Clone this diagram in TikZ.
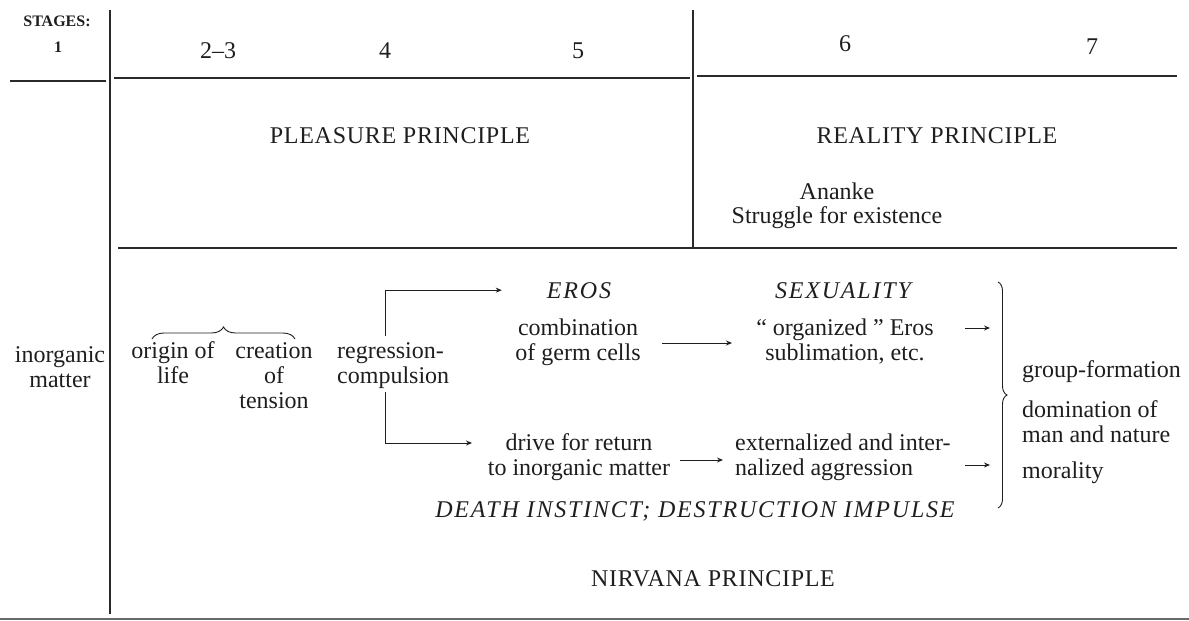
\documentclass[tikz,border=0pt]{standalone}
\usepackage{fontspec}
\setmainfont{Liberation Serif}
\usetikzlibrary{arrows.meta,decorations.pathreplacing}
\definecolor{ink}{HTML}{1E1E1E}
\definecolor{rulec}{HTML}{2A2A2A}
\begin{document}
\begin{tikzpicture}[x=1pt,y=-1pt,
  txt/.style={inner sep=0pt, text=ink, font=\fontsize{24}{25}\selectfont},
  itcaps/.style={txt, font=\fontsize{24}{25}\selectfont\itshape\addfontfeatures{LetterSpace=7.5}},
  caps/.style={txt, font=\fontsize{24}{25}\selectfont\addfontfeatures{LetterSpace=3}},
  small/.style={inner sep=0pt, text=ink, font=\fontsize{16}{18}\selectfont\bfseries},
  tabrule/.style={draw=rulec, line width=1.4pt},
  arr/.style={draw=ink, line width=0.9pt, -{Stealth[length=6pt,width=5pt]}},
  brc/.style={draw=ink, line width=0.9pt, decorate}]
\useasboundingbox (0,0) rectangle (1189,621);
% table rules
\draw[tabrule] (110,10) -- (110,614);
\draw[tabrule] (10,81) -- (106,81);
\draw[tabrule] (114,78) -- (690,78);
\draw[tabrule] (693,10) -- (693,248);
\draw[tabrule] (697,76) -- (1177,76);
\draw[tabrule] (118,248) -- (1177,248);
\draw[draw=rulec!70, line width=1.4pt] (0,619) -- (1189,619);
% stages
\node[small] (stg) at (57,21) {STAGES:};
\node[small] (s1) at (58,47) {1};
\node[txt] (s23) at (218,51) {2–3};
\node[txt] (s4) at (385,51) {4};
\node[txt] (s5) at (578,51) {5};
\node[txt] (s6) at (845,44) {6};
\node[txt] (s7) at (1092,47) {7};
% principles
\node[caps, anchor=base] (pp) at (400,143) {PLEASURE PRINCIPLE};
\node[caps, anchor=base] (rp) at (937,143) {REALITY PRINCIPLE};
\node[txt, anchor=base, align=center, font=\fontsize{24}{24}\selectfont] (ana) at (837,223) {Ananke\\Struggle for existence};
% lower part (base anchor = last line's baseline)
\node[txt, anchor=base, align=center] (inorg) at (60,387) {inorganic\\matter};
\node[txt, anchor=base, align=center] (origin) at (173,383) {origin of\\life};
\node[txt, anchor=base, align=center] (creation) at (274,408) {creation\\of\\tension};
\node[txt, anchor=base west, align=left] (reg) at (337,383) {regression-\\compulsion};
\node[itcaps, anchor=base] (eros) at (579,298) {EROS};
\node[txt, anchor=base, align=center] (comb) at (578,360) {combination\\of germ cells};
\node[itcaps, anchor=base] (sex) at (843,298) {SEXUALITY};
\node[txt, anchor=base, align=center] (org) at (845,360) {“ organized ” Eros\\sublimation, etc.};
\node[txt, anchor=base, align=center] (drive) at (579,475) {drive for return\\to inorganic matter};
\node[txt, anchor=base west, align=left] (ext) at (735,475) {externalized and inter-\\nalized aggression};
\node[itcaps, anchor=base] (death) at (695,517) {DEATH INSTINCT; DESTRUCTION IMPULSE};
\node[caps, anchor=base] (nirv) at (713,586) {NIRVANA PRINCIPLE};
\node[txt, anchor=base west] (grp) at (1022,377) {group-formation};
\node[txt, anchor=base west, align=left] (dom) at (1022,442) {domination of\\man and nature};
\node[txt, anchor=base west] (mor) at (1022,478) {morality};
% braces
\coordinate (bl) at (152,339);
\coordinate (br) at (295,339);
\draw[brc, decoration={brace, amplitude=12pt}] (bl) -- (br);
\coordinate (rt) at (998,282);
\coordinate (rb) at (998,508);
\draw[brc, decoration={brace, amplitude=9pt}] (rt) -- (rb);
% connectors
\coordinate (rtop) at (385,336);
\coordinate (rbot) at (385,392);
\coordinate (dtip) at (472,443);
\draw[arr, shorten >=45pt] (rtop) |- (eros.west);
\draw[arr] (rbot) |- (dtip);
\coordinate (m1a) at (662,343);
\coordinate (m1b) at (732,343);
\draw[arr] (m1a) -- (m1b);
\coordinate (m2a) at (680,460);
\coordinate (m2b) at (723,460);
\draw[arr] (m2a) -- (m2b);
\coordinate (u1) at (965,328);
\coordinate (u2) at (990,328);
\draw[arr] (u1) -- (u2);
\coordinate (l1) at (965,465);
\coordinate (l2) at (990,465);
\draw[arr] (l1) -- (l2);
\end{tikzpicture}
\end{document}
